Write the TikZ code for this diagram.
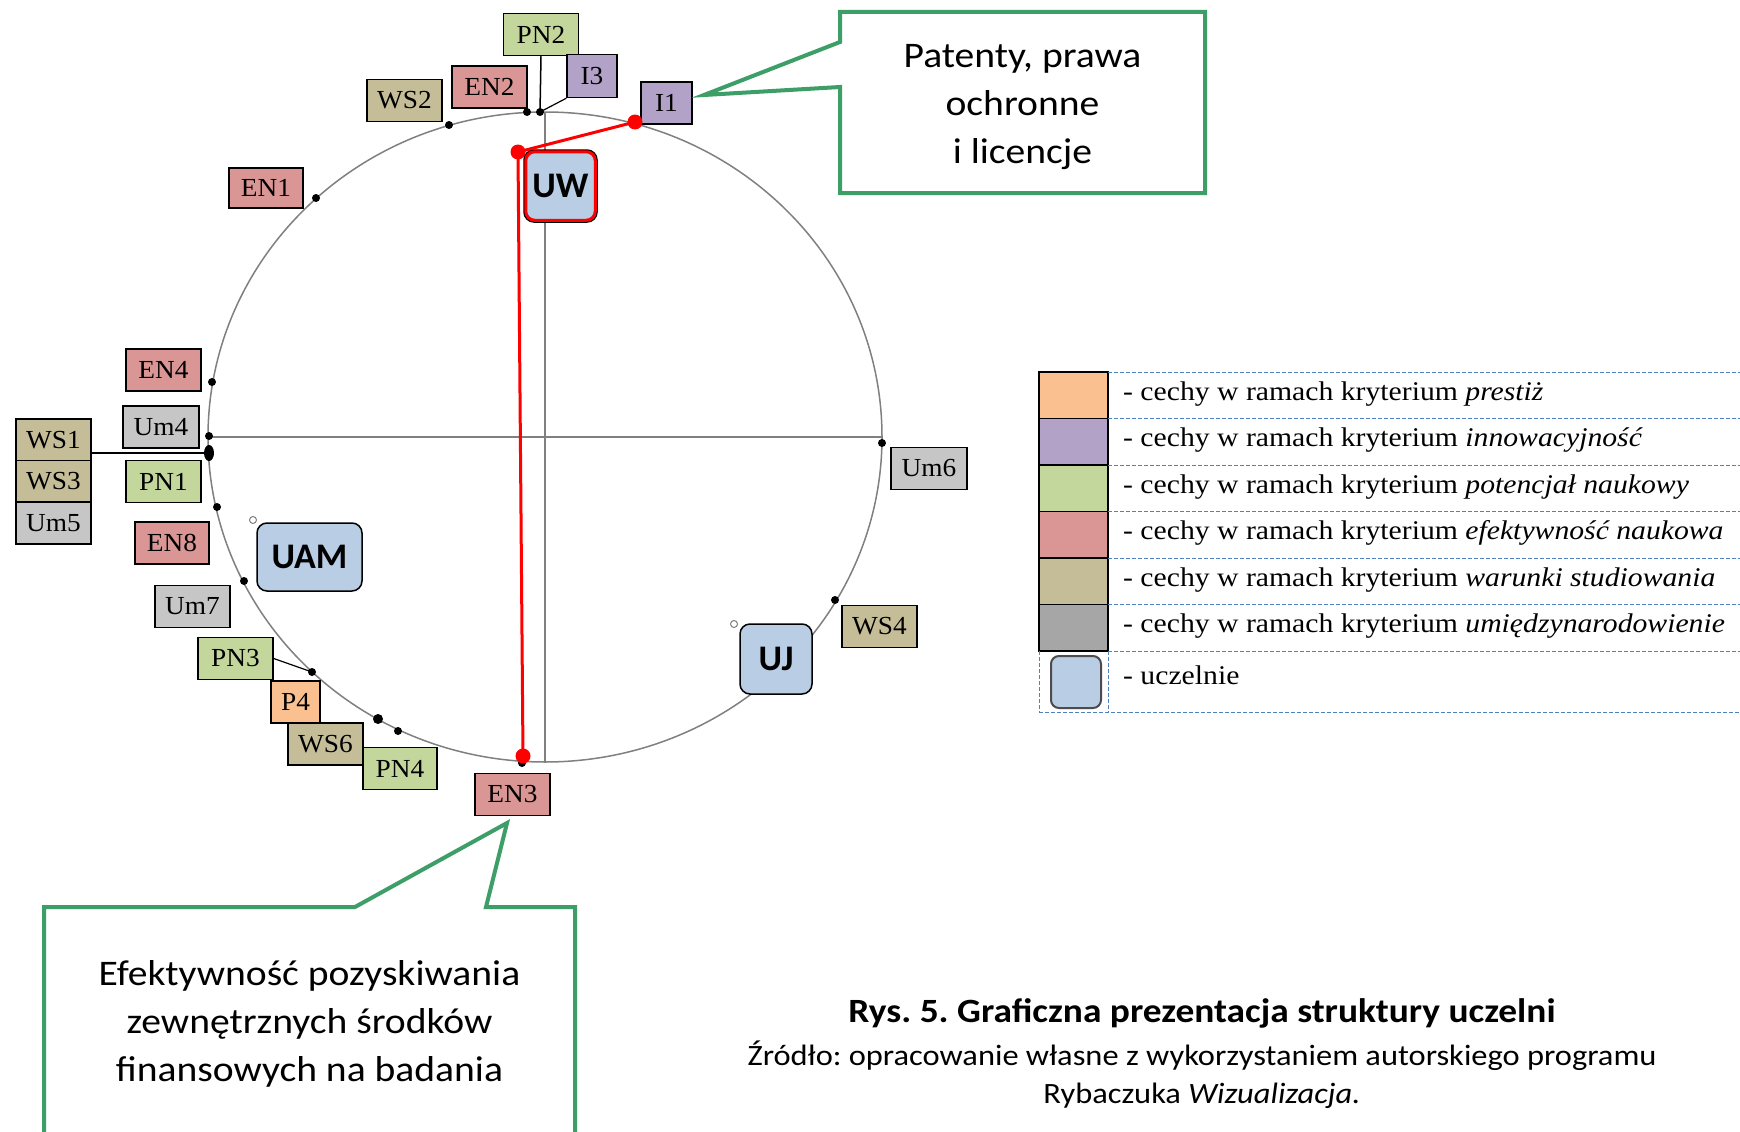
\documentclass[tikz,border=0pt]{standalone}
\usepackage{fontspec}
\setmainfont{Liberation Serif}
\newfontfamily\labfont{Liberation Serif}[FakeStretch=1.05]
\newfontfamily\legfont{Liberation Serif}[FakeStretch=1.1]
\newfontfamily\calfont{Carlito}[FakeStretch=1.1]
\newfontfamily\unifont{Carlito}
\frenchspacing
\definecolor{cP}{RGB}{250,192,144}
\definecolor{cI}{RGB}{179,162,199}
\definecolor{cPN}{RGB}{195,214,155}
\definecolor{cEN}{RGB}{217,150,148}
\definecolor{cWS}{RGB}{196,189,151}
\definecolor{cUm}{RGB}{166,166,166}
\definecolor{cUmL}{RGB}{198,198,198}
\definecolor{cUni}{RGB}{185,205,229}
\definecolor{cGreen}{RGB}{62,158,104}
\definecolor{cDash}{RGB}{79,129,189}
\definecolor{cAxis}{RGB}{128,128,128}
\tikzset{
  lbl/.style={draw=black, line width=1.5pt, inner sep=0pt, minimum height=42pt, minimum width=75pt,
    font=\labfont\fontsize{26}{26}\selectfont},
  uni/.style={draw=black, line width=1.5pt, fill=cUni, rounded corners=10pt, inner sep=0pt,
    font=\unifont\bfseries\fontsize{36}{36}\selectfont},
  sw/.style={draw=black, line width=1.5pt, inner sep=0pt, minimum width=69pt, minimum height=46.5pt},
  legtxt/.style={anchor=base west, inner sep=0pt, font=\legfont\fontsize{27}{27}\selectfont},
  calltxt/.style={anchor=base, inner sep=0pt, font=\calfont\fontsize{36}{36}\selectfont},
  callout/.style={draw=cGreen, line width=4pt, fill=white, line join=miter},
  dotb/.style={fill=black},
  legdash/.style={draw=cDash, line width=1pt, dash pattern=on 4pt off 2pt},
}
\begin{document}
\begin{tikzpicture}[x=1pt, y=-1pt]
\fill[white] (0,0) rectangle (1740,1132);
\clip (0,0) rectangle (1740,1132);

% axes and circle
\coordinate (ctr) at (545,437);
\coordinate (axL) at (209,437);
\coordinate (axR) at (882,437);
\coordinate (axT) at (545,113);
\coordinate (axB) at (545,762);
\draw[cAxis, line width=1.5pt] (axL) -- (axR);
\draw[cAxis, line width=1.5pt] (axT) -- (axB);
\draw[cAxis, line width=1.5pt] (ctr) ellipse [x radius=337pt, y radius=325pt];

% dots on circle
\coordinate (d-ws2) at (449,125);
\coordinate (d-en2) at (527,112);
\coordinate (d-pn2) at (540,112);
\coordinate (d-en1) at (316,198);
\coordinate (d-en4) at (212,382);
\coordinate (d-um4) at (209,436);
\coordinate (d-ws1) at (209,453);
\coordinate (d-pn1) at (217,507);
\coordinate (d-um7) at (244,581);
\coordinate (d-pn3) at (312,672);
\coordinate (d-ws6) at (378,719);
\coordinate (d-pn4) at (398,731);
\coordinate (d-en3) at (522,763);
\coordinate (d-um6) at (882,443);
\coordinate (d-ws4) at (835,600);
\foreach \d in {d-ws2,d-en2,d-pn2,d-en1,d-en4,d-um4,d-pn1,d-um7,d-pn3,d-pn4,d-en3,d-um6,d-ws4}
  \fill[dotb] (\d) circle (4pt);
\fill[dotb] (d-ws1) ellipse [x radius=5pt, y radius=8pt];
\fill[dotb] (d-ws6) circle (5pt);
\coordinate (h-uam) at (253,520);
\coordinate (h-uj) at (734,624);
\draw[cAxis, line width=1pt, fill=white] (h-uam) circle (3.5pt);
\draw[cAxis, line width=1pt, fill=white] (h-uj) circle (3.5pt);

% labels
\node[lbl, fill=cPN] (pn2) at (541,34.5) {PN2};
\node[lbl, fill=cI, minimum width=50pt, minimum height=43pt] (i3) at (592,76) {I3};
\node[lbl, fill=cEN] (en2) at (489.5,87) {EN2};
\node[lbl, fill=cWS] (ws2) at (404.5,100.5) {WS2};
\node[lbl, fill=cI, minimum width=51pt] (i1) at (666.5,103) {I1};
\node[lbl, fill=cEN, minimum width=74pt, minimum height=40pt] (en1) at (266,188) {EN1};
\node[lbl, fill=cEN] (en4) at (163.5,370) {EN4};
\node[lbl, fill=cUmL, minimum width=76pt] (um4) at (161,427) {Um4};
\node[lbl, fill=cWS, minimum height=41.7pt] (ws1) at (53.5,440) {WS1};
\node[lbl, fill=cWS, minimum height=41.7pt] (ws3) at (53.5,481.5) {WS3};
\node[lbl, fill=cUmL, minimum height=41.7pt] (um5) at (53.5,523) {Um5};
\node[lbl, fill=cPN] (pn1) at (163.5,481.5) {PN1};
\node[lbl, fill=cEN, minimum width=74pt] (en8) at (172,543) {EN8};
\node[lbl, fill=cUmL] (um7) at (192.5,606.5) {Um7};
\node[lbl, fill=cPN] (pn3) at (235.5,658.5) {PN3};
\node[lbl, fill=cP, minimum width=49pt] (p4) at (295.5,702) {P4};
\node[lbl, fill=cWS] (ws6) at (325.5,744) {WS6};
\node[lbl, fill=cPN, minimum width=74pt] (pn4) at (400,768.5) {PN4};
\node[lbl, fill=cEN] (en3) at (512.5,794.5) {EN3};
\node[lbl, fill=cUmL, minimum width=76pt] (um6) at (929,468.5) {Um6};
\node[lbl, fill=cWS] (ws4) at (879.5,626.5) {WS4};

% label leader lines
\draw[line width=1.5pt] (pn2.south) -- (d-pn2);
\draw[line width=1.2pt] (i3.south west) -- (d-pn2);
\draw[line width=1.5pt] (ws1.east |- d-ws1) -- (d-ws1);
\draw[line width=1.2pt] (pn3.east) -- (d-pn3);

% universities
\node[uni, minimum width=73pt, minimum height=72pt] (uw) at (560.5,186) {UW};
\draw[red, line width=3pt, rounded corners=9pt] ([shift={(2.5pt,-2.5pt)}]uw.north west) rectangle ([shift={(-2.5pt,2.5pt)}]uw.south east);
\node[uni, minimum width=105pt, minimum height=68pt] (uam) at (309.5,557) {UAM};
\node[uni, minimum width=72pt, minimum height=70pt] (uj) at (776,659) {UJ};

% red path
\coordinate (r-uw) at (518,152);
\coordinate (r-i1) at (635,122);
\coordinate (r-en3) at (523,756);
\draw[red, line width=3pt] (r-i1) -- (r-uw) -- (r-en3);
\foreach \d in {r-uw,r-i1,r-en3} \fill[red] (\d) circle (7.5pt);

% callout 1
\draw[callout] (840,12) -- (1205,12) -- (1205,193) -- (840,193) -- (840,87) -- (704,95) -- (840,42) -- cycle;
\node[calltxt] (c1a) at (1022.5,67) {Patenty, prawa};
\node[calltxt] (c1b) at (1022.5,115) {ochronne};
\node[calltxt] (c1c) at (1022.5,163) {i licencje};

% callout 2
\draw[callout] (44,907) -- (355,907) -- (507,823) -- (486,907) -- (575,907) -- (575,1150) -- (44,1150) -- cycle;
\node[calltxt] (c2a) at (309.5,985) {Efektywność pozyskiwania};
\node[calltxt] (c2b) at (309.5,1033) {zewnętrznych środków};
\node[calltxt] (c2c) at (309.5,1081) {finansowych na badania};

% legend
\node[sw, fill=cP]  (sw1) at (1073.5,395.25) {};
\node[sw, fill=cI]  (sw2) at (1073.5,441.75) {};
\node[sw, fill=cPN] (sw3) at (1073.5,488.25) {};
\node[sw, fill=cEN] (sw4) at (1073.5,534.75) {};
\node[sw, fill=cWS] (sw5) at (1073.5,581.25) {};
\node[sw, fill=cUm] (sw6) at (1073.5,627.75) {};
\node[draw=black!70, line width=2pt, fill=cUni, rounded corners=8pt, minimum width=50pt, minimum height=52pt, inner sep=0pt] (sw7) at (1076,682) {};
\foreach \y in {372,418.5,465,511.5,558,604.5,651}
  \draw[legdash] (1108,\y) -- (1740,\y);
\draw[legdash] (1039,712) -- (1740,712);
\draw[legdash] (1039,651) -- (1039,712);
\draw[legdash] (1108,651) -- (1108,712);
\node[legtxt] (l1) at (1123,400) {- cechy w ramach kryterium \textit{prestiż}};
\node[legtxt] (l2) at (1123,446.5) {- cechy w ramach kryterium \textit{innowacyjność}};
\node[legtxt] (l3) at (1123,493) {- cechy w ramach kryterium \textit{potencjał naukowy}};
\node[legtxt] (l4) at (1123,539.5) {- cechy w ramach kryterium \textit{efektywność naukowa}};
\node[legtxt] (l5) at (1123,586) {- cechy w ramach kryterium \textit{warunki studiowania}};
\node[legtxt] (l6) at (1123,632.5) {- cechy w ramach kryterium \textit{umiędzynarodowienie}};
\node[legtxt] (l7) at (1123,684) {- uczelnie};

% caption
\node[anchor=base, inner sep=0pt, font=\calfont\bfseries\fontsize{34}{34}\selectfont] (cap1) at (1202,1022) {Rys. 5. Graficzna prezentacja struktury uczelni};
\node[anchor=base, inner sep=0pt, font=\calfont\fontsize{29.5}{29.5}\selectfont] (cap2) at (1202,1065) {Źródło: opracowanie własne z wykorzystaniem autorskiego programu};
\node[anchor=base, inner sep=0pt, font=\calfont\fontsize{29.5}{29.5}\selectfont] (cap3) at (1202,1103) {Rybaczuka \textit{Wizualizacja.}};
\end{tikzpicture}
\end{document}
